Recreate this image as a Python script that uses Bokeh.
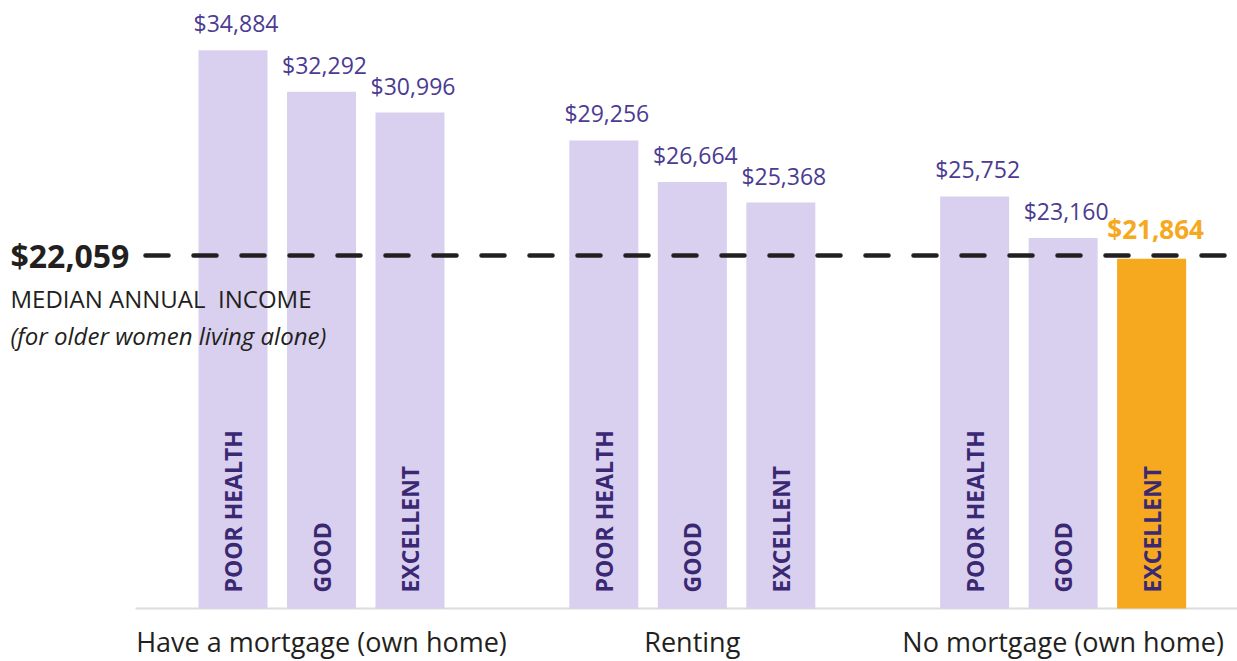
import math
from bokeh.plotting import figure
from bokeh.models import ColumnDataSource, Range1d
from bokeh.core.properties import value
from bokeh.embed import file_html
from bokeh.resources import INLINE

# ---- data ----
groups = ["Have a mortgage (own home)", "Renting", "No mortgage (own home)"]
health = ["POOR HEALTH", "GOOD", "EXCELLENT"]
incomes = [
    [34884, 32292, 30996],
    [29256, 26664, 25368],
    [25752, 23160, 21864],
]
median_income = 22059
median_label = "$22,059"
median_title = "MEDIAN ANNUAL\u00a0 INCOME"
median_sub = "(for older women living alone)"

# ---- styles ----
FONT = value("Open Sans")
BAR = "#d9d0f0"
HILITE = "#f6a81e"
VAL_COLOR = "#4b3b91"
LAB_COLOR = "#3a2873"
DARK = "#231f20"
GAP = 1.19
BAR_W = 0.78
SHIFT = -9  # rendering correction for alphabetic baseline

xs, tops, labels, vals, colors, vcolors, vstyles, voff, vxoff, vsize = [], [], [], [], [], [], [], [], [], []
for g, grp in enumerate(groups):
    for j, h in enumerate(health):
        v = incomes[g][j]
        xs.append(g * (3 + GAP) + j)
        tops.append(v)
        labels.append(h)
        vals.append("${:,}".format(v))
        below = v < median_income
        colors.append(HILITE if below else BAR)
        vcolors.append(HILITE if below else VAL_COLOR)
        vstyles.append("bold" if below else "normal")
        voff.append((-21 if below else -18) + SHIFT)
        vxoff.append(4 if below else 3)
        vsize.append("26px" if below else "23px")

src = ColumnDataSource(dict(x=xs, top=tops, label=labels, val=vals, color=colors,
                            vcolor=vcolors, vstyle=vstyles, voff=voff, vxoff=vxoff, vsize=vsize))

W, H = 1237, 661
PX_PER_UNIT = 88.5
x_start = -232.5 / PX_PER_UNIT
x_end = x_start + W / PX_PER_UNIT
PX_PER_DOLLAR = 0.016
y_end = 608 / PX_PER_DOLLAR
y_start = -(H - 608) / PX_PER_DOLLAR

p = figure(width=W, height=H, x_range=Range1d(x_start, x_end), y_range=Range1d(y_start, y_end),
           output_backend="svg", toolbar_location=None, min_border=0,
           x_axis_type=None, y_axis_type=None)
p.outline_line_color = None
p.xgrid.visible = False
p.ygrid.visible = False
p.background_fill_color = "white"

# baseline
bx0 = x_start + 135 / PX_PER_UNIT
p.segment(x0=[bx0], y0=[0], x1=[x_end], y1=[0], line_color="#dcdcdc", line_width=2)

# bars
p.vbar(x="x", top="top", bottom=0, width=BAR_W, fill_color="color", line_color=None, source=src)

# value labels
p.text(x="x", y="top", text="val", source=src, text_font=FONT, text_font_size="vsize",
       text_color="vcolor", text_font_style="vstyle", text_align="center",
       text_baseline="alphabetic", y_offset="voff", x_offset="vxoff")

# rotated health labels
p.text(x="x", y=0, text="label", source=src, text_font=FONT, text_font_size="23px",
       text_color=LAB_COLOR, text_font_style="bold", angle=math.pi / 2,
       text_align="left", text_baseline="middle", y_offset=-16)

# median dashed line
dx0 = x_start + 145 / PX_PER_UNIT
p.segment(x0=[dx0], y0=[median_income], x1=[x_end], y1=[median_income], line_color=DARK,
          line_width=4.5, line_dash="23 25", line_cap="round")

tx = x_start + 10 / PX_PER_UNIT
p.text(x=[tx], y=[median_income], text=[median_label], text_font=FONT, text_font_size="32px",
       text_font_style="bold", text_color=DARK, text_baseline="alphabetic", y_offset=9 + SHIFT)
p.text(x=[tx], y=[median_income], text=[median_title], text_font=FONT, text_font_size="24px",
       text_color=DARK, text_baseline="alphabetic", y_offset=52 + SHIFT)
p.text(x=[tx], y=[median_income], text=[median_sub], text_font=FONT, text_font_size="24px",
       text_font_style="italic", text_color=DARK, text_baseline="alphabetic", y_offset=89 + SHIFT)

# group labels
gx = [g * (3 + GAP) + 1 for g in range(len(groups))]
p.text(x=gx, y=[0] * len(groups), text=groups, text_font=FONT, text_font_size="27px",
       text_color=DARK, text_align="center", text_baseline="alphabetic", y_offset=42 + SHIFT)

open("out.html", "w").write(file_html(p, INLINE))
